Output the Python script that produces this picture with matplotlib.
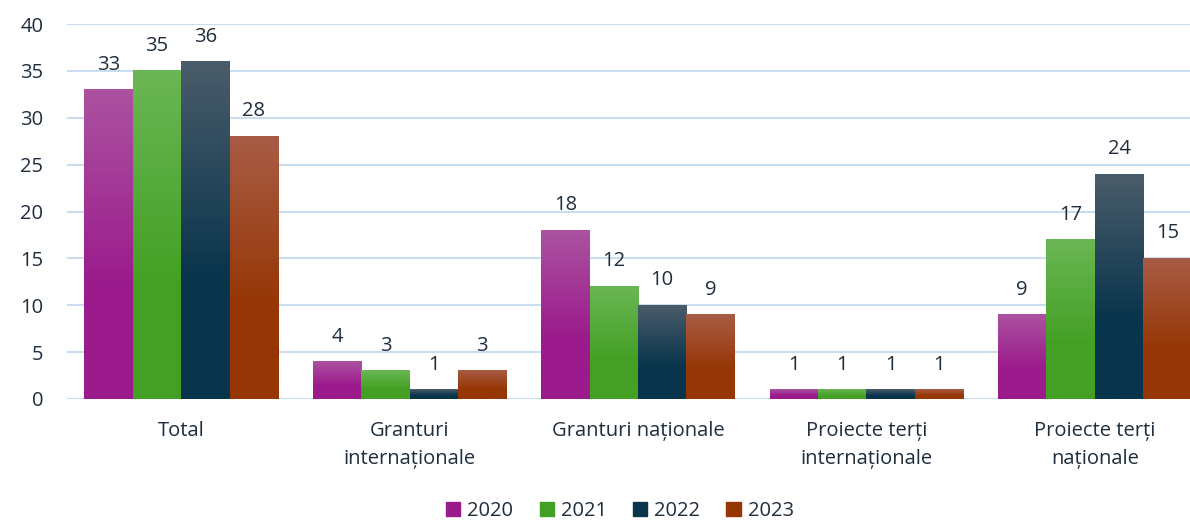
import matplotlib as mpl
mpl.use('Agg')
import matplotlib.pyplot as plt
import numpy as np
from matplotlib.colors import LinearSegmentedColormap

categories = ['Total', 'Granturi\ninternaționale', 'Granturi naționale',
              'Proiecte terți\ninternaționale', 'Proiecte terți\nnaționale']
years = ['2020', '2021', '2022', '2023']
v2020 = [33, 4, 18, 1, 9]
v2021 = [35, 3, 12, 1, 17]
v2022 = [36, 1, 10, 1, 24]
v2023 = [28, 3, 9, 1, 15]
series = [v2020, v2021, v2022, v2023]

# (top colour, bottom colour) for the vertical gradient
colors = [('#AB52A0', '#9B1A8C'),
          ('#6AB654', '#44A025'),
          ('#4A5C6A', '#08344C'),
          ('#A85C45', '#963605')]

text_col = '#1F2D3D'
plt.rcParams['font.family'] = ['Open Sans', 'DejaVu Sans']
fs = 14.5

fig = plt.figure(figsize=(11.9, 5.21), dpi=100)
ax = fig.add_axes([67/1190, 122/521, 1142/1190, 375/521])

x = np.arange(len(categories))
w = 0.212
grad = np.linspace(0, 1, 100).reshape(-1, 1)

for i, (vals, (ctop, cbot)) in enumerate(zip(series, colors)):
    cmap = LinearSegmentedColormap.from_list('g%d' % i, [(0, ctop), (0.65, cbot), (1, cbot)])
    offs = x + (i - 1.5) * w
    for xc, v in zip(offs, vals):
        ax.imshow(grad, extent=[xc - w/2, xc + w/2, 0, v], aspect='auto',
                  cmap=cmap, zorder=3, origin='upper', interpolation='bilinear')
        ax.text(xc, v + 1.6, str(v), ha='center', va='bottom',
                fontsize=fs, color=text_col, zorder=4)
    ax.bar(offs, vals, w, color=cbot, label=years[i], zorder=0, alpha=0)

ax.set_xlim(-0.5, 4.5)
ax.set_ylim(0, 40)
ax.set_yticks(range(0, 41, 5))
ax.yaxis.grid(True, color='#C9DCF0', linewidth=1.5, zorder=1)
ax.set_axisbelow(True)
for s in ax.spines.values():
    s.set_visible(False)
ax.tick_params(axis='y', length=0, pad=17, labelsize=fs, labelcolor=text_col)
ax.tick_params(axis='x', length=0, pad=16, labelsize=fs, labelcolor=text_col)
ax.set_xticks(x)
ax.set_xticklabels(categories, linespacing=1.5, va='top')

handles = [plt.Rectangle((0, 0), 1, 1, color=c[1]) for c in colors]
fig.legend(handles, years, loc='center', bbox_to_anchor=(620/1190, 1 - 511/521),
           ncol=4, frameon=False, fontsize=fs, labelcolor=text_col,
           handlelength=0.7, handleheight=0.7, handletextpad=0.35, columnspacing=1.3)

fig.savefig('out.png', dpi=100)
